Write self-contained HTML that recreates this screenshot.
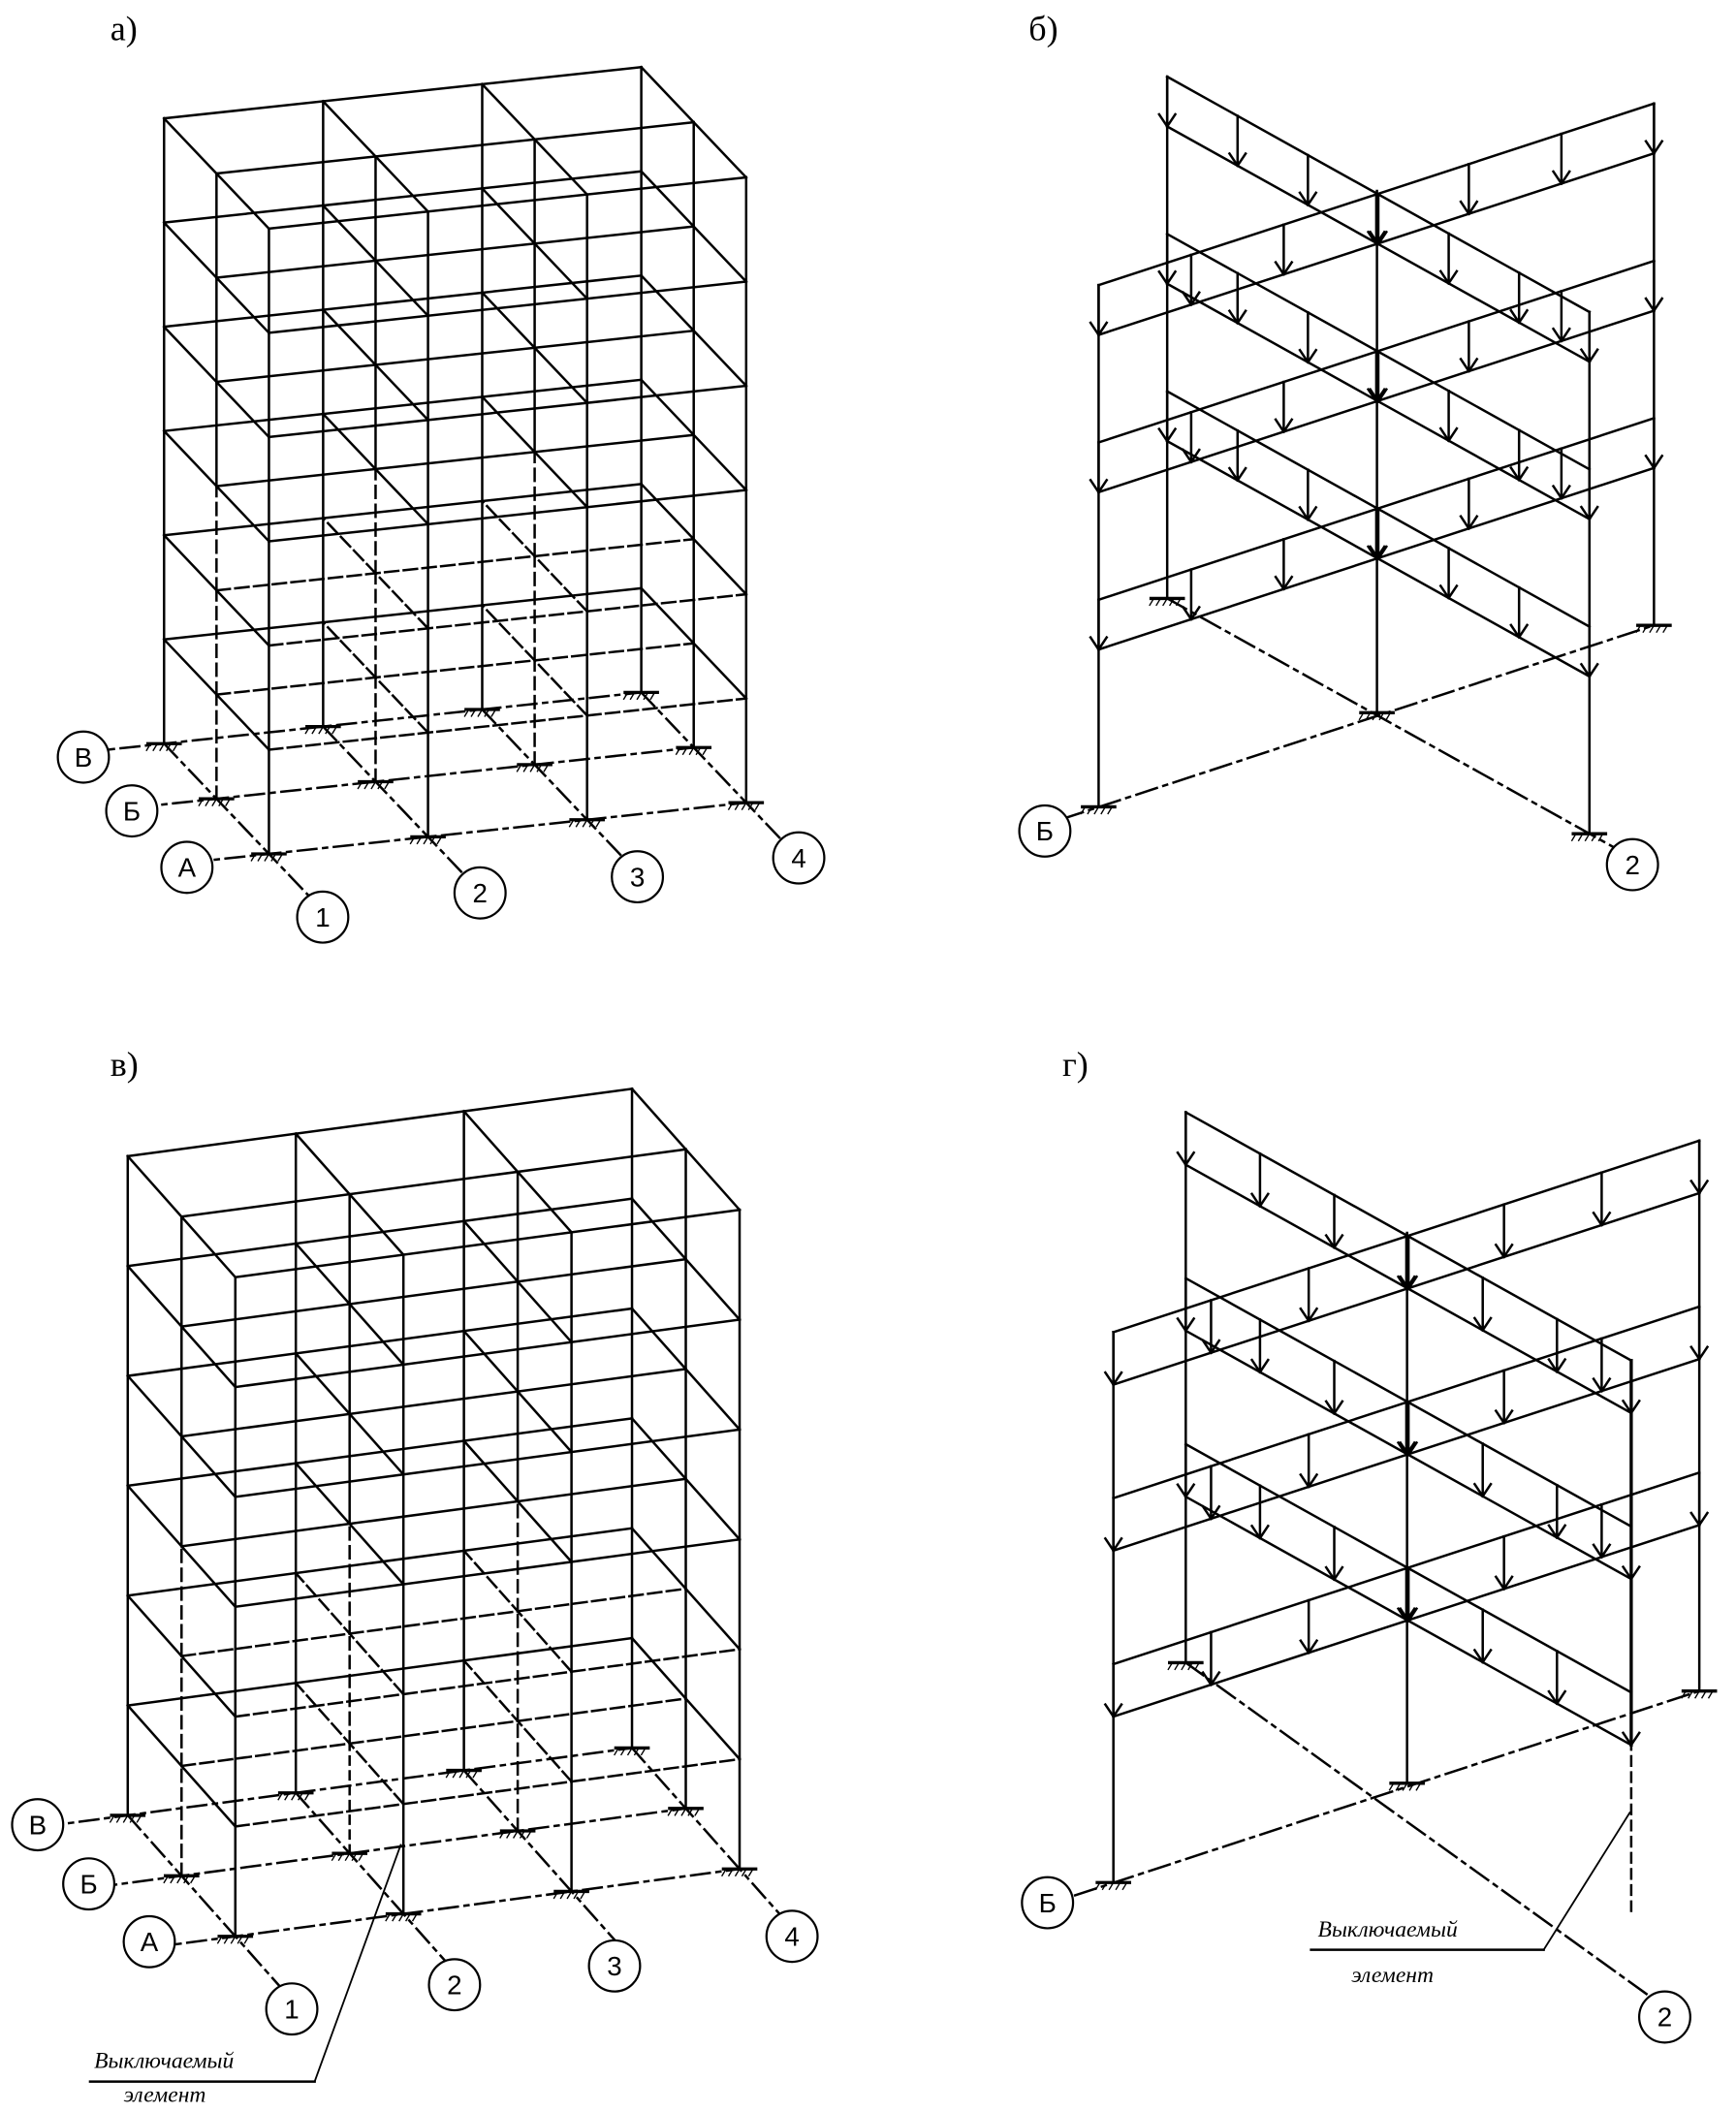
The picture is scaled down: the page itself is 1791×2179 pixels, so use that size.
<!DOCTYPE html>
<html><head><meta charset="utf-8"><style>
html,body{margin:0;padding:0;background:#fff;}
svg{display:block}
text{font-family:"Liberation Sans",sans-serif;fill:#000}
.lab{font-family:"Liberation Serif",serif;font-size:26px}
.ann{font-family:"Liberation Serif",serif;font-style:italic;font-size:17px}
</style></head><body>
<svg id="s" xmlns="http://www.w3.org/2000/svg" width="1791" height="2179" viewBox="0 0 1291 1570.6">
<g id="g" stroke="#000" stroke-width="1.8" fill="none" stroke-linecap="square"></g>
<g stroke="#000" stroke-width="1.6" fill="#fff">
<circle cx="62" cy="563" r="19"/><circle cx="98" cy="603" r="19"/><circle cx="139" cy="645" r="19"/>
<circle cx="240" cy="682" r="19"/><circle cx="357" cy="664" r="19"/><circle cx="474" cy="652" r="19"/><circle cx="594" cy="638" r="19"/>
<circle cx="777" cy="618" r="19"/><circle cx="1214" cy="643" r="19"/>
<circle cx="28" cy="1357" r="19"/><circle cx="66" cy="1401" r="19"/><circle cx="111" cy="1444" r="19"/>
<circle cx="217" cy="1494" r="19"/><circle cx="338" cy="1476" r="19"/><circle cx="457" cy="1462" r="19"/><circle cx="589" cy="1440" r="19"/>
<circle cx="779" cy="1415" r="19"/><circle cx="1238" cy="1500" r="19"/>
</g>
<g font-size="20" text-anchor="middle">
<text x="62" y="570">В</text><text x="98" y="610">Б</text><text x="139" y="652">А</text>
<text x="240" y="689">1</text><text x="357" y="671">2</text><text x="474" y="659">3</text><text x="594" y="645">4</text>
<text x="777" y="625">Б</text><text x="1214" y="650">2</text>
<text x="28" y="1364">В</text><text x="66" y="1408">Б</text><text x="111" y="1451">А</text>
<text x="217" y="1501">1</text><text x="338" y="1483">2</text><text x="457" y="1469">3</text><text x="589" y="1447">4</text>
<text x="779" y="1422">Б</text><text x="1238" y="1507">2</text>
</g>
<text class="lab" x="82" y="30">а)</text>
<text class="lab" x="765" y="30">б)</text>
<text class="lab" x="82" y="800">в)</text>
<text class="lab" x="790" y="800">г)</text>
<text class="ann" x="70" y="1538">Выключаемый</text>
<text class="ann" x="92" y="1563">элемент</text>
<text class="ann" x="980" y="1440">Выключаемый</text>
<text class="ann" x="1005" y="1474">элемент</text>
</svg>
<script>
var g=document.getElementById('g'),NS="http://www.w3.org/2000/svg";
function L(a,b,d,w){var e=document.createElementNS(NS,'line');e.setAttribute('x1',a[0]);e.setAttribute('y1',a[1]);e.setAttribute('x2',b[0]);e.setAttribute('y2',b[1]);if(d)e.setAttribute('stroke-dasharray',d);if(w)e.setAttribute('stroke-width',w);g.appendChild(e);}
function sup(p){L([p[0]-12,p[1]],[p[0]+12,p[1]],0,2.4);for(var i=0;i<5;i++){L([p[0]-10+i*5,p[1]],[p[0]-13+i*5,p[1]+5],0,1);}}
function building(o,ex,ey,h,off){
 function P(i,j,k){return [o[0]+i*ex[0]+j*ey[0],o[1]+i*ex[1]+j*ey[1]-k*h];}
 var DD="14,5,3,5";
 for(var k=1;k<=6;k++){
  for(var j=0;j<3;j++)L(P(0,j,k),P(3,j,k),k<=2&&j<2?"10,4":0);
  for(var i=0;i<4;i++)L(P(i,0,k),P(i,2,k),k<=2&&i>0&&i<3?"10,4":0);
 }
 for(var i=0;i<4;i++)for(var j=0;j<3;j++){
  for(var k=0;k<6;k++){var d=0;if(j==1&&i<3&&k<3)d="9,5";if(off&&i==1&&j==1&&k==0)d="6,5";L(P(i,j,k),P(i,j,k+1),d);}
  sup(P(i,j,0));
 }
 for(var j=0;j<3;j++)L(P(-0.5,j,0),P(3,j,0),DD);
 for(var i=0;i<4;i++)L(P(i,2,0),P(i,-0.92,0),DD);
}
building([200,635],[118.3,-12.7],[-39,-41],77.5,false);
building([175,1440],[125,-16.7],[-40,-45],81.7,true);
function frame(M,off,end2){
 function T(p){return M([p[0],p[1]]);}
 var Lp=[817,600],C=[1024,530],R=[1230,465],B=[868,445],F=[1182,620],h=117,q=37;
 function up(p,d){return [p[0],p[1]-d];}
 function lerp(a,b,t){return [a[0]+(b[0]-a[0])*t,a[1]+(b[1]-a[1])*t];}
 function arrow(p){var a=T(up(p,q)),b=T(p);L(a,b);L(b,[b[0]-6,b[1]-9]);L(b,[b[0]+6,b[1]-9]);}
 [[Lp,R],[B,F]].forEach(function(fr){
  var a=fr[0],b=fr[1];
  for(var k=1;k<=3;k++){
   L(T(up(a,k*h)),T(up(b,k*h)));L(T(up(a,k*h+q)),T(up(b,k*h+q)));
   for(var t=0;t<=6;t++)arrow(up(lerp(a,b,t/6),k*h));
  }
 });
 [Lp,C,R,B,F].forEach(function(p){
  if(off&&p===F){L(T(p),T(up(p,h)),"7,5");L(T(up(p,h)),T(up(p,3*h+q)),0,2.4);}
  else{L(T(p),T(up(p,3*h+q)));sup(T(p));}
 });
 L(T([790,609]),T(R),"16,5,3,5");L(T(B),end2||T([1200,630]),"16,5,3,5");
}
frame(function(p){return p;},false);
frame(function(p){return [828+(p[0]-817)*1.055,1400+(p[1]-600)*1.055];},true,[1226,1484]);
L([67,1548],[234,1548]);L([234,1548],[298,1372],0,1.3);
L([975,1450],[1148,1450]);L([1148,1450],[1212,1348],0,1.3);
</script>
</body></html>
